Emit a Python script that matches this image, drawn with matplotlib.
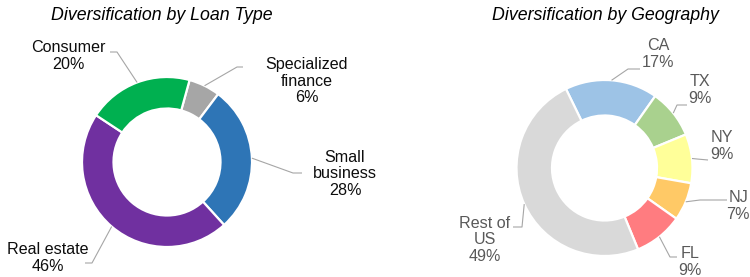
import numpy as np
import matplotlib
matplotlib.use('Agg')
import matplotlib.pyplot as plt

plt.rcParams['font.family'] = ['Liberation Sans', 'DejaVu Sans']

# dados
tipo_labels = ['Specialized\nfinance', 'Small\nbusiness', 'Real estate', 'Consumer']
tipo_valores = [6, 28, 46, 20]
tipo_cores = ['#A6A6A6', '#2E75B6', '#7030A0', '#00B050']

geo_labels = ['CA', 'TX', 'NY', 'NJ', 'FL', 'Rest of\nUS']
geo_valores = [17, 9, 9, 7, 9, 49]
geo_cores = ['#9DC3E6', '#A9D18E', '#FFFF99', '#FFC966', '#FF7C80', '#D9D9D9']

W, H = 750, 277


def px(x, y):
    # pixel (y para baixo) -> coordenadas do eixo
    return (x, H - y)


# posicoes dos rotulos: (cotovelo, fim da linha, centro do texto)
tipo_pos = [((237, 67), (243, 67), (307, 81)),
            ((293, 173), (302, 173), (345, 174)),
            ((92, 263), (85, 263), (48, 258)),
            ((117, 52), (110, 52), (68, 56))]
geo_pos = [((628, 69), (640, 69), (658, 54)),
           ((677, 105), (687, 105), (700, 90)),
           ((697, 159), (708, 160), (722, 146)),
           ((700, 200), (727, 200), (738, 206)),
           ((670, 257), (677, 257), (690, 262)),
           ((522, 227), (513, 227), (485, 240))]


def rosca(ax, valores, cores, labels, pos, centro, raio, largura, inicio, cor_txt):
    wedges, _ = ax.pie(valores, colors=cores, center=px(*centro), radius=raio,
                       startangle=inicio, counterclock=False,
                       wedgeprops=dict(width=largura, edgecolor='white', linewidth=1.6))
    for w, v, lab, (cot, fim, txt) in zip(wedges, valores, labels, pos):
        ang = np.deg2rad((w.theta1 + w.theta2) / 2)
        ax0 = w.center[0] + w.r * np.cos(ang)
        ay0 = w.center[1] + w.r * np.sin(ang)
        xs = [ax0, cot[0], fim[0]]
        ys = [ay0, H - cot[1], H - fim[1]]
        ax.plot(xs, ys, color='#A6A6A6', lw=0.8, solid_capstyle='butt')
        ax.text(*px(*txt), f'{lab}\n{v}%', ha='center', va='center',
                multialignment='center', fontsize=11.6, color=cor_txt, linespacing=1.15)


fig = plt.figure(figsize=(7.5, 2.77), dpi=100)
ax = fig.add_axes([0, 0, 1, 1])

rosca(ax, tipo_valores, tipo_cores, tipo_labels, tipo_pos,
      (167, 162), 85, 31.5, 74.6, '#0D0D0D')
rosca(ax, geo_valores, geo_cores, geo_labels, geo_pos,
      (604.5, 168), 88, 35.5, 116, '#595959')

ax.text(*px(161.5, 15), 'Diversification by Loan Type', ha='center', va='center',
        fontsize=12.8, style='italic', color='#000000')
ax.text(*px(605.5, 15), 'Diversification by Geography', ha='center', va='center',
        fontsize=12.8, style='italic', color='#000000')

ax.set_xlim(0, W)
ax.set_ylim(0, H)
ax.set_aspect('equal')
ax.axis('off')

fig.savefig('out.png', dpi=100)
